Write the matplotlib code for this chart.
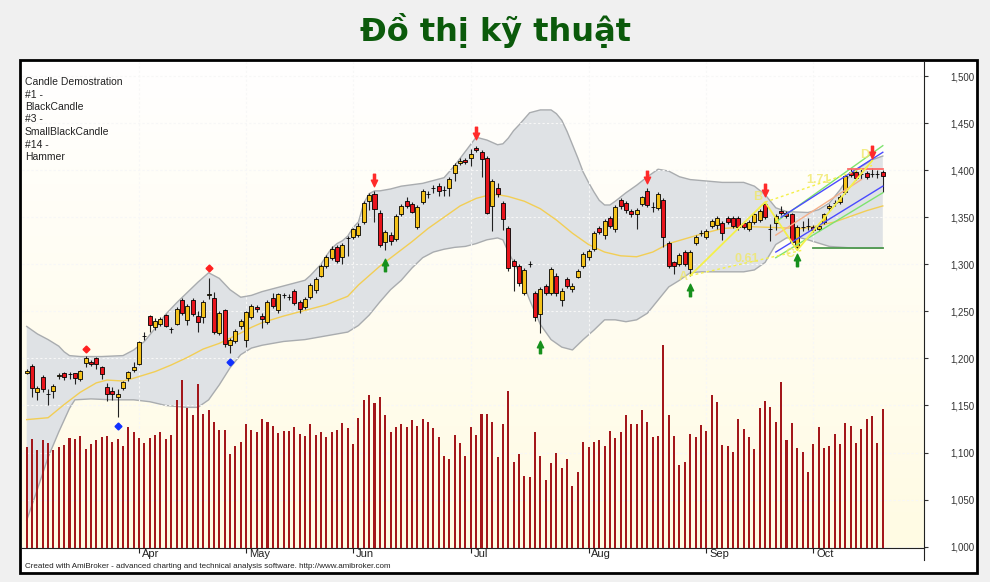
import matplotlib
matplotlib.use("Agg")
import matplotlib.pyplot as plt
import numpy as np
from matplotlib.path import Path
from matplotlib.lines import Line2D
from matplotlib.patches import Rectangle
from matplotlib.colors import LinearSegmentedColormap
import matplotlib.transforms as mtransforms

# ---- price data (one bar per trading day, index 0..160) ----
opens = [1185, 1192, 1164, 1180, 1162, 1165, 1181, 1184, 1183, 1184,
         1178, 1195, 1196, 1200, 1191, 1170, 1165, 1159, 1169, 1179,
         1188, 1194, 1224, 1245, 1233, 1237, 1246, 1231, 1237, 1262,
         1241, 1262, 1245, 1244, 1267, 1264, 1227, 1251, 1214, 1219,
         1234, 1220, 1244, 1255, 1245, 1239, 1264, 1251, 1267, 1265,
         1272, 1260, 1255, 1265, 1273, 1288, 1298, 1307, 1318, 1308,
         1328, 1329, 1331, 1345, 1367, 1375, 1355, 1324, 1331, 1327,
         1353, 1367, 1364, 1340, 1366, 1375, 1381, 1383, 1379, 1381,
         1397, 1408, 1411, 1413, 1424, 1419, 1413, 1362, 1381, 1365,
         1339, 1304, 1298, 1270, 1300, 1269, 1247, 1277, 1269, 1288,
         1262, 1284, 1274, 1287, 1298, 1308, 1316, 1339, 1331, 1349,
         1337, 1368, 1365, 1357, 1353, 1364, 1378, 1361, 1360, 1368,
         1323, 1302, 1300, 1313, 1295, 1323, 1333, 1329, 1341, 1342,
         1344, 1349, 1349, 1349, 1344, 1337, 1345, 1347, 1364, 1338,
         1344, 1357, 1355, 1353, 1318, 1340, 1341, 1340, 1337, 1345,
         1360, 1365, 1366, 1377, 1398, 1398, 1396, 1397, 1396, 1396,
         1398]
closes = [1187, 1169, 1169, 1168, 1162, 1171, 1182, 1180, 1183, 1179,
          1187, 1200, 1194, 1194, 1183, 1162, 1162, 1162, 1175, 1186,
          1191, 1217, 1224, 1236, 1240, 1242, 1234, 1231, 1253, 1248,
          1256, 1247, 1239, 1260, 1268, 1228, 1248, 1215, 1220, 1229,
          1240, 1249, 1256, 1252, 1242, 1260, 1256, 1268, 1267, 1265,
          1259, 1252, 1263, 1278, 1284, 1298, 1308, 1316, 1303, 1320,
          1328, 1337, 1341, 1365, 1374, 1359, 1320, 1334, 1325, 1351,
          1362, 1362, 1356, 1361, 1378, 1375, 1381, 1378, 1379, 1391,
          1406, 1410, 1409, 1417, 1421, 1412, 1355, 1389, 1375, 1348,
          1296, 1298, 1280, 1294, 1300, 1244, 1274, 1269, 1295, 1269,
          1272, 1277, 1277, 1293, 1311, 1314, 1333, 1334, 1346, 1341,
          1361, 1362, 1358, 1353, 1358, 1371, 1363, 1361, 1375, 1329,
          1298, 1298, 1310, 1300, 1313, 1329, 1333, 1335, 1346, 1349,
          1333, 1345, 1341, 1340, 1340, 1345, 1353, 1357, 1350, 1338,
          1351, 1354, 1351, 1324, 1340, 1340, 1341, 1336, 1341, 1353,
          1362, 1365, 1372, 1394, 1395, 1392, 1396, 1393, 1396, 1396,
          1394]
highs = [1189, 1194, 1171, 1182, 1167, 1173, 1184, 1186, 1186, 1185,
         1188, 1203, 1198, 1201, 1192, 1174, 1170, 1167, 1176, 1187,
         1196, 1218, 1228, 1246, 1243, 1244, 1247, 1233, 1255, 1264,
         1258, 1264, 1250, 1262, 1285, 1271, 1250, 1252, 1222, 1231,
         1242, 1250, 1258, 1257, 1248, 1262, 1270, 1270, 1270, 1268,
         1274, 1262, 1265, 1280, 1287, 1300, 1310, 1319, 1320, 1323,
         1330, 1339, 1344, 1367, 1376, 1378, 1358, 1336, 1334, 1353,
         1364, 1372, 1366, 1363, 1380, 1378, 1384, 1386, 1383, 1393,
         1408, 1413, 1413, 1422, 1426, 1421, 1415, 1391, 1386, 1367,
         1341, 1306, 1300, 1296, 1303, 1272, 1276, 1279, 1297, 1291,
         1275, 1286, 1280, 1295, 1313, 1316, 1335, 1341, 1348, 1351,
         1363, 1370, 1367, 1359, 1360, 1373, 1381, 1366, 1377, 1370,
         1325, 1304, 1312, 1315, 1315, 1331, 1336, 1337, 1348, 1351,
         1346, 1351, 1351, 1351, 1346, 1347, 1355, 1359, 1366, 1343,
         1353, 1362, 1357, 1355, 1342, 1346, 1349, 1342, 1343, 1355,
         1364, 1368, 1374, 1396, 1402, 1400, 1401, 1399, 1402, 1400,
         1400]
lows = [1183, 1159, 1156, 1164, 1151, 1158, 1178, 1177, 1178, 1173,
        1176, 1191, 1192, 1189, 1178, 1155, 1156, 1138, 1166, 1176,
        1186, 1193, 1220, 1228, 1230, 1234, 1233, 1227, 1235, 1246,
        1236, 1245, 1228, 1238, 1263, 1226, 1225, 1212, 1206, 1216,
        1231, 1212, 1242, 1249, 1232, 1237, 1254, 1248, 1264, 1262,
        1257, 1248, 1252, 1263, 1270, 1286, 1296, 1305, 1301, 1300,
        1309, 1327, 1329, 1343, 1358, 1345, 1318, 1315, 1321, 1325,
        1351, 1360, 1354, 1337, 1364, 1370, 1376, 1373, 1373, 1373,
        1388, 1406, 1407, 1404, 1419, 1393, 1353, 1335, 1372, 1336,
        1293, 1272, 1277, 1267, 1297, 1240, 1227, 1267, 1267, 1266,
        1256, 1275, 1271, 1285, 1296, 1305, 1314, 1332, 1327, 1339,
        1334, 1359, 1355, 1350, 1337, 1362, 1361, 1356, 1358, 1318,
        1296, 1290, 1298, 1298, 1288, 1321, 1330, 1327, 1339, 1338,
        1326, 1343, 1339, 1336, 1338, 1335, 1343, 1345, 1348, 1325,
        1336, 1352, 1349, 1322, 1315, 1335, 1336, 1334, 1335, 1343,
        1357, 1362, 1364, 1375, 1393, 1390, 1391, 1391, 1393, 1392,
        1377]
volume = [101, 109, 98, 108, 105, 98, 101, 103, 110, 109,
          112, 99, 104, 108, 111, 112, 106, 109, 102, 121,
          116, 110, 105, 110, 113, 116, 109, 113, 148, 168,
          140, 133, 164, 134, 138, 126, 118, 118, 94, 102,
          106, 124, 118, 116, 129, 126, 122, 115, 117, 117,
          121, 114, 112, 124, 113, 116, 111, 116, 118, 125,
          120, 104, 130, 148, 153, 145, 151, 133, 116, 121,
          124, 121, 128, 122, 129, 126, 120, 111, 92, 89,
          113, 105, 92, 121, 113, 134, 134, 126, 91, 124,
          157, 86, 94, 72, 71, 116, 92, 68, 85, 95,
          80, 89, 62, 76, 106, 101, 106, 108, 102, 117,
          110, 116, 133, 124, 124, 138, 126, 111, 112, 203,
          133, 112, 83, 86, 114, 111, 123, 117, 153, 146,
          103, 102, 96, 129, 119, 111, 99, 140, 147, 141,
          126, 166, 108, 125, 100, 96, 76, 104, 121, 100,
          102, 114, 104, 125, 122, 105, 119, 129, 132, 105,
          139]

# Bollinger bands and moving average
ub_idx = [0, 2, 4, 6, 7, 8, 10, 14, 18, 20, 22, 24, 26, 28, 30, 32, 34, 36, 38, 40,
          42, 44, 46, 48, 50, 52, 53, 54, 55, 56, 57, 58, 59, 60, 61, 62, 63, 64, 65, 66,
          68, 70, 74, 78, 80, 82, 84, 86, 88, 89, 90, 91, 92, 94, 96, 98, 99, 100, 101, 102,
          103, 104, 105, 106, 107, 108, 109, 110, 112, 114, 116, 118, 120, 122, 124, 126, 130, 134, 136, 138,
          140, 142, 146, 148, 150, 152, 154, 156, 158, 160]
ub_val = [1234, 1226, 1220, 1213, 1207, 1203, 1202, 1202, 1203, 1209, 1218, 1232, 1247, 1259, 1270, 1281, 1291, 1285, 1273, 1265,
          1267, 1271, 1274, 1277, 1280, 1283, 1288, 1294, 1300, 1309, 1317, 1322, 1325, 1330, 1339, 1345, 1365, 1375, 1378, 1378,
          1380, 1383, 1386, 1392, 1405, 1420, 1435, 1432, 1427, 1428, 1434, 1442, 1448, 1461, 1464, 1464, 1460, 1453, 1441, 1427,
          1413, 1398, 1387, 1377, 1368, 1363, 1363, 1367, 1376, 1384, 1393, 1401, 1399, 1393, 1390, 1389, 1387, 1387, 1383, 1374,
          1360, 1356, 1355, 1358, 1365, 1379, 1396, 1404, 1411, 1415]
lb_idx = [0, 2, 4, 6, 8, 9, 12, 16, 20, 23, 26, 30, 32, 34, 36, 38, 40, 42, 44, 48,
          52, 56, 60, 62, 64, 66, 68, 70, 72, 74, 76, 78, 80, 82, 84, 86, 88, 89, 90, 92,
          94, 96, 98, 100, 102, 104, 106, 108, 110, 112, 114, 116, 118, 120, 122, 124, 126, 130, 134, 136,
          138, 140, 142, 144, 146, 150, 155, 160]
lb_val = [1028, 1061, 1095, 1122, 1147, 1156, 1157, 1156, 1156, 1154, 1150, 1148, 1148, 1156, 1172, 1190, 1204, 1211, 1214, 1218,
          1220, 1224, 1228, 1235, 1246, 1260, 1273, 1283, 1296, 1307, 1313, 1316, 1318, 1319, 1322, 1326, 1328, 1326, 1313, 1292,
          1262, 1236, 1220, 1212, 1209, 1220, 1230, 1241, 1241, 1239, 1241, 1248, 1262, 1276, 1283, 1291, 1292, 1292, 1292, 1294,
          1302, 1321, 1328, 1329, 1326, 1319, 1317, 1317]
ma_idx = [0, 4, 7, 10, 13, 15, 18, 20, 24, 27, 30, 33, 36, 40, 42, 44, 48, 52, 56, 60,
          62, 64, 66, 69, 72, 75, 78, 81, 84, 86, 88, 90, 93, 96, 99, 102, 105, 108, 111, 114,
          117, 120, 123, 126, 130, 135, 140, 145, 148, 151, 154, 157, 160]
ma_val = [1135, 1137, 1151, 1164, 1174, 1177, 1176, 1179, 1186, 1193, 1201, 1210, 1216, 1227, 1233, 1238, 1245, 1251, 1257, 1266,
          1278, 1288, 1298, 1311, 1324, 1338, 1350, 1362, 1370, 1373, 1374, 1372, 1367, 1359, 1347, 1333, 1321, 1313, 1309, 1308,
          1313, 1322, 1327, 1332, 1338, 1340, 1339, 1338, 1341, 1345, 1351, 1357, 1362]

# pattern signals
sell_idx = [65, 84, 116, 138, 158]
sell_val = [1390, 1439, 1393, 1379, 1419]
buy_idx = [67, 96, 124, 144]
buy_val = [1299, 1212, 1273, 1305]
red_dot_idx = [11, 34]
red_dot_val = [1210, 1296]
blue_dot_idx = [17, 38]
blue_dot_val = [1128, 1196]

# drawn studies (bar index, price)
zig_idx = [124, 138, 144, 158]
zig_val = [1288, 1366, 1315, 1410]
zig_names = ["A", "B", "C", "D"]
fib1_idx, fib1_val = [124, 145], [1288, 1315]
fib2_idx, fib2_val = [138, 158], [1366, 1405]
green_up = ([140, 160], [1345, 1426])
green_lo = ([140, 160], [1307, 1376])
blue_up = ([141, 160], [1350, 1419])
blue_lo = ([140, 160], [1313, 1383])
orange_ln = ([140, 156], [1331, 1390])
red_hline = ([153.5, 160], [1401, 1401])
green_hline = ([147, 160], [1317, 1317])

months = ["Apr", "May", "Jun", "Jul", "Aug", "Sep", "Oct"]
month_idx = [21, 41, 61, 83, 105, 127, 147]
price_ticks = list(range(1000, 1501, 50))

legend_lines = ["Candle Demostration", "#1 -", "BlackCandle", "#3 -",
                "SmallBlackCandle", "#14 -", "Hammer"]

# ---- figure ----
W, H = 990, 582
fig = plt.figure(figsize=(W / 100, H / 100), dpi=100)
fig.patch.set_facecolor("#f0f0f0")


def fx(px):
    return px / W


def fy(py):
    return 1 - py / H


fig.patches.append(Rectangle((fx(20), fy(573)), fx(977) - fx(20), fy(60) - fy(573),
                             transform=fig.transFigure, facecolor="white",
                             edgecolor="black", lw=2, zorder=-5))

ax = fig.add_axes([fx(22), fy(548), fx(924) - fx(22), fy(62) - fy(548)])
xlim = (-0.88, 167.7)
ylim = (998.6, 1514.9)

cream = LinearSegmentedColormap.from_list("cream", ["#fffbe3", "#ffffff"])
grad = np.linspace(0, 1, 256).reshape(-1, 1)
ax.imshow(grad, extent=[xlim[0], xlim[1], ylim[0], ylim[1]], origin="lower",
          aspect="auto", cmap=cream, zorder=0)

# bands
ax.fill(np.r_[ub_idx, lb_idx[::-1]], np.r_[ub_val, lb_val[::-1]],
        facecolor="#dfe2e5", edgecolor="none", zorder=1)
ax.plot(ub_idx, ub_val, color="#a9acaf", lw=1.0, zorder=1.2)
ax.plot(lb_idx, lb_val, color="#a9acaf", lw=1.0, zorder=1.2)
ax.plot(ma_idx, ma_val, color="#f2ce55", lw=1.0, zorder=2)

# candles
idx = np.arange(len(opens))
o = np.array(opens)
c = np.array(closes)
up = c >= o
colors = np.where(up, "#f4c21a", "#e8141c")
ax.vlines(idx, lows, highs, color="#222222", lw=0.8, zorder=3)
ax.bar(idx, np.abs(c - o), bottom=np.minimum(o, c), width=0.75, color=colors,
       edgecolor="black", linewidth=0.6, zorder=4)

# signals
down_arrow = Path([(-0.17, 1), (0.17, 1), (0.17, 0.05), (0.5, 0.05), (0, -1),
                   (-0.5, 0.05), (-0.17, 0.05), (-0.17, 1)], closed=True)
up_arrow = Path([(x, -y) for x, y in down_arrow.vertices], closed=True)
ax.plot(sell_idx, sell_val, ls="none", marker=down_arrow, ms=9, color="#ff2a2a", zorder=6)
ax.plot(buy_idx, buy_val, ls="none", marker=up_arrow, ms=9, color="#16901c", zorder=6)
ax.plot(red_dot_idx, red_dot_val, ls="none", marker="D", ms=3.5, color="#ff2020", zorder=6)
ax.plot(blue_dot_idx, blue_dot_val, ls="none", marker="D", ms=3.5, color="#1030ff", zorder=6)

# studies
ax.plot(*green_up, color="#7ee36e", lw=1, zorder=5)
ax.plot(*green_lo, color="#7ee36e", lw=1, zorder=5)
ax.plot(*blue_up, color="#4a4aff", lw=1, zorder=5)
ax.plot(*blue_lo, color="#4a4aff", lw=1, zorder=5)
ax.plot(*orange_ln, color="#f5b08a", lw=1, zorder=5)
ax.plot(*red_hline, color="#ff6a6a", lw=1.3, zorder=5)
ax.plot(*green_hline, color="#4f9a4f", lw=1.3, zorder=5)
ax.plot(zig_idx, zig_val, color="#f4f04a", lw=1.3, zorder=5)
ax.plot(fib1_idx, fib1_val, color="#f4f04a", lw=1, ls=(0, (2, 2)), zorder=5)
ax.plot(fib2_idx, fib2_val, color="#f4f04a", lw=1, ls=(0, (2, 2)), zorder=5)
fib_font = dict(color="#f0e86a", fontsize=9, fontweight="bold", alpha=0.8, zorder=6,
                family="Liberation Sans")
ax.text(134.6, 1306, "0.61", ha="center", va="center", **fib_font)
ax.text(147.9, 1390, "1.71", ha="center", va="center", **fib_font)
for name, xi, yi, dx, dy in zip(zig_names, zig_idx, zig_val, [-1.3, -1.3, -1.3, -1.3],
                                [-2, 6, -4, 6]):
    ax.text(xi + dx, yi + dy, name, ha="center", va="center", **fib_font)

ax.set_xlim(*xlim)
ax.set_ylim(*ylim)

# axes styling
ax.yaxis.tick_right()
ax.set_yticks(price_ticks)
ax.set_yticklabels([f"{v:,}" for v in price_ticks])
ax.tick_params(axis="y", direction="out", length=3, width=0.8, color="#333333",
               labelsize=7, labelcolor="#333333", pad=33)
for lbl in ax.get_yticklabels():
    lbl.set_ha("right")
    lbl.set_family("Liberation Sans")
ax.set_xticks(month_idx)
ax.set_xticklabels(months)
ax.tick_params(axis="x", direction="out", length=3.6, width=0.8, color="#222222",
               labelsize=8, labelcolor="#222222", pad=-3.2)
shift = mtransforms.ScaledTranslation(2 / 72, 0, fig.dpi_scale_trans)
for lbl in ax.get_xticklabels():
    lbl.set_ha("left")
    lbl.set_family("Liberation Sans")
    lbl.set_transform(lbl.get_transform() + shift)
ax.grid(True, color="#f7f7f7", ls=(0, (2, 2)), lw=0.8)
for s in ["left", "top"]:
    ax.spines[s].set_visible(False)
ax.spines["bottom"].set_color("#222222")
ax.spines["right"].set_color("#222222")
fig.lines.append(Line2D([fx(924), fx(924)], [fy(548), fy(560)], transform=fig.transFigure,
                        color="#222222", lw=0.8))

# volume on an overlay axis
ax2 = fig.add_axes(ax.get_position(), sharex=ax, frameon=False)
ax2.bar(idx, volume, width=0.38, color="#a3171b", zorder=2)
ax2.set_ylim(0, 486)
ax2.xaxis.set_visible(False)
ax2.yaxis.set_visible(False)

# texts
fig.text(0.5, fy(31), "Đồ thị kỹ thuật", ha="center", va="center", fontsize=23,
         fontweight="bold", color="#0b5a0b", family="DejaVu Sans")
for i, line in enumerate(legend_lines):
    fig.text(fx(25), fy(82 + i * 12.5), line, ha="left", va="center", fontsize=7.5,
             color="#222222", family="Liberation Sans")
fig.text(fx(25), fy(566.5), "Created with AmiBroker - advanced charting and technical analysis "
         "software. http://www.amibroker.com", ha="left", va="center", fontsize=5.8,
         color="#222222", family="Liberation Sans")

fig.savefig("out.png", dpi=100, facecolor=fig.get_facecolor())
